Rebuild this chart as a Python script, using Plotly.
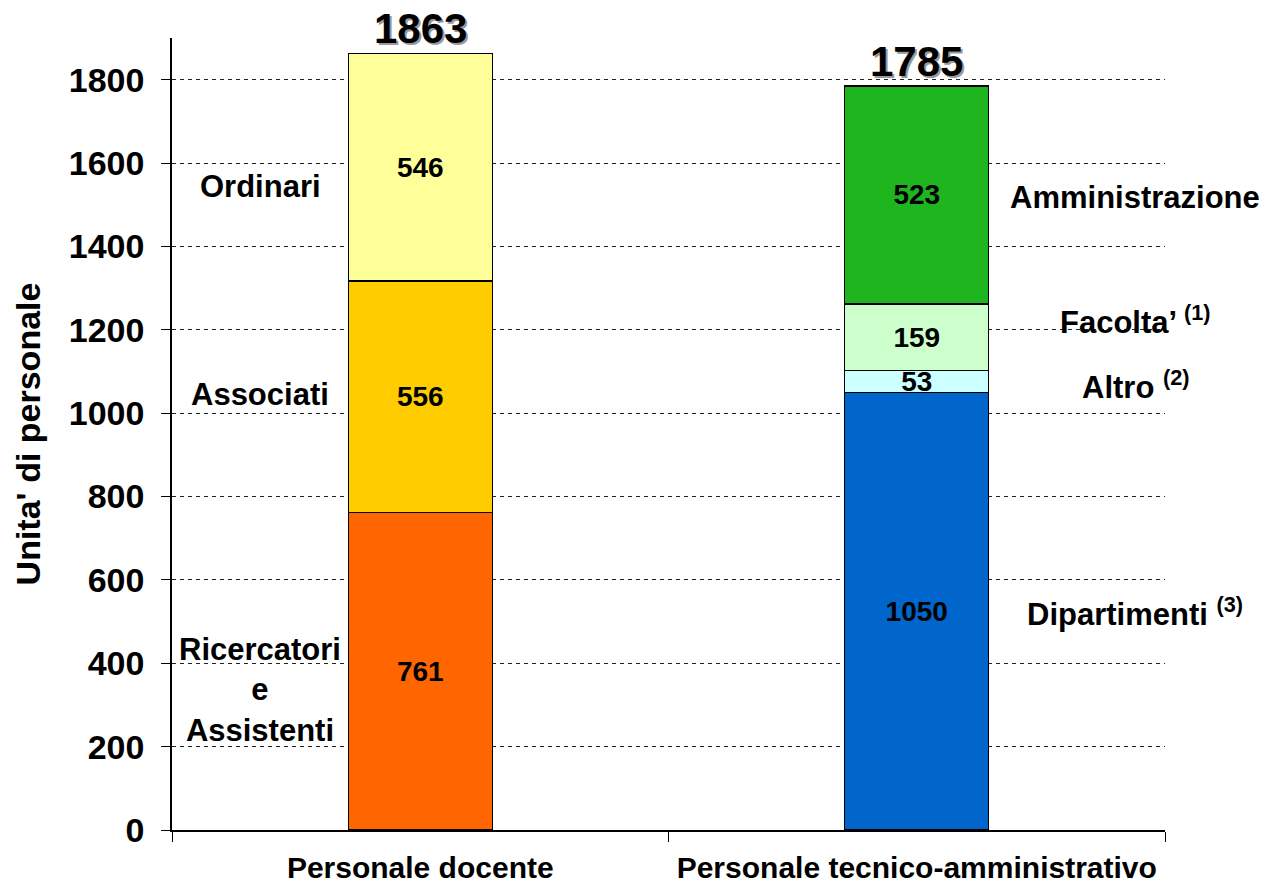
import plotly.graph_objects as go

categories = ["Personale docente", "Personale tecnico-amministrativo"]

# docente segments (bottom to top)
docente_names = ["Ricercatori e Assistenti", "Associati", "Ordinari"]
docente_values = [761, 556, 546]
docente_colors = ["#FF6600", "#FFCC00", "#FFFF99"]

# tecnico-amministrativo segments (bottom to top)
tecnico_names = ["Dipartimenti", "Altro", "Facolta'", "Amministrazione"]
tecnico_values = [1050, 53, 159, 523]
tecnico_colors = ["#0066CC", "#CCFFFF", "#CCFFCC", "#1FB51F"]

docente_labels = ["Ricercatori<br>e<br>Assistenti", "Associati", "Ordinari"]
docente_label_y = [336, 1044, 1543]
tecnico_labels = ["Dipartimenti <sup>(3)</sup>", "Altro <sup>(2)</sup>",
                  "Facolta’ <sup>(1)</sup>", "Amministrazione"]
tecnico_label_y = [523, 1068, 1224, 1517]

y_ticks = [0, 200, 400, 600, 800, 1000, 1200, 1400, 1600, 1800]

FONT = "Arial, Liberation Sans, sans-serif"

fig = go.Figure()

def add_segments(cat, names, values, colors):
    for name, val, col in zip(names, values, colors):
        fig.add_trace(go.Bar(
            x=[cat], y=[val], name=name, marker_color=col,
            marker_line=dict(color="black", width=1.4),
            text=[str(val)], textposition="inside", insidetextanchor="middle",
            textangle=0,
            textfont=dict(family=FONT, size=28, color="black", weight="bold"),
            width=0.29, showlegend=False, cliponaxis=False))

add_segments(categories[0], docente_names, docente_values, docente_colors)
add_segments(categories[1], tecnico_names, tecnico_values, tecnico_colors)

# side labels
for lab, yv in zip(docente_labels, docente_label_y):
    fig.add_annotation(x=-0.322, y=yv, xref="x", yref="y", text=f"<b>{lab}</b>",
                       showarrow=False, font=dict(family=FONT, size=31, color="black"))
for lab, yv in zip(tecnico_labels, tecnico_label_y):
    fig.add_annotation(x=1.44, y=yv, xref="x", yref="y", text=f"<b>{lab}</b>",
                       showarrow=False, font=dict(family=FONT, size=31, color="black"))

# totals with shadow
totals = [sum(docente_values), sum(tecnico_values)]
for cat, tot in zip(categories, totals):
    fig.add_annotation(x=cat, y=tot, xref="x", yref="y", text=f"<b>{tot}</b>",
                       showarrow=False, yanchor="bottom", xshift=2, yshift=-2,
                       borderpad=0,
                       font=dict(family=FONT, size=42, color="#9a9a9a"))
    fig.add_annotation(x=cat, y=tot, xref="x", yref="y", text=f"<b>{tot}</b>",
                       showarrow=False, yanchor="bottom", yshift=0,
                       borderpad=0,
                       font=dict(family=FONT, size=42, color="black"))

fig.update_layout(
    barmode="stack",
    width=1262, height=876,
    margin=dict(l=164, r=105, t=30, b=54, autoexpand=False),
    paper_bgcolor="white", plot_bgcolor="white",
    uniformtext=dict(minsize=28, mode="show"),
    bargap=0.71,
)

fig.update_xaxes(
    range=[-0.5, 1.5], showline=True, linecolor="black", linewidth=1.5,
    ticks="outside", tickson="boundaries", ticklen=10, tickcolor="black",
    tickfont=dict(family=FONT, size=30, color="black", weight="bold"),
    showgrid=False, ticklabelstandoff=10, automargin=False,
)
fig.update_yaxes(
    range=[0, 1900], tickvals=y_ticks, showline=True, linecolor="black", linewidth=1.5,
    ticks="outside", ticklen=9, tickcolor="black",
    tickfont=dict(family=FONT, size=34, color="black", weight="bold"),
    showgrid=True, gridcolor="#222222", griddash="4px,4px", gridwidth=1,
    zeroline=False, ticklabelstandoff=10, automargin=False,
    title=dict(text="<b>Unita' di personale</b>",
               font=dict(family=FONT, size=34, color="black"), standoff=18),
)

fig.write_html("out.html")
